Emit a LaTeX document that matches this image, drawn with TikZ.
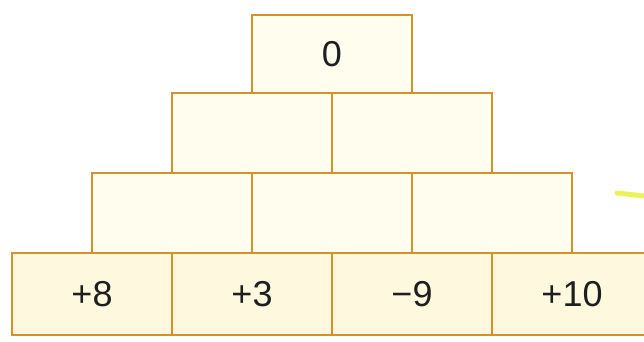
\documentclass[tikz,border=0pt]{standalone}
\usepackage{fontspec}
\setmainfont{Liberation Sans}
\usepackage{xcolor}
\usetikzlibrary{positioning}
\definecolor{brickEdge}{HTML}{D4922C}
\definecolor{brickFill}{HTML}{FFFDEE}
\definecolor{brickBase}{HTML}{FEF9DE}
\definecolor{brickText}{HTML}{1E1E1E}
\definecolor{strayMark}{HTML}{E6F030}

\begin{document}
\begin{tikzpicture}[
  x=1pt, y=-1pt,
  font=\fontsize{36}{42}\selectfont,
  node distance=0pt,
  cell/.style={
    draw=brickEdge,
    fill=brickFill,
    line width=2.6pt,
    text=brickText,
    minimum width=160pt,
    minimum height=80pt,
    inner sep=0pt,
    outer sep=0pt
  },
  base/.style={cell, fill=brickBase, minimum height=82pt}
]
\useasboundingbox (0,0) rectangle (644,341);

% bottom row
\node[base] (b1) at (92,294) {+8};
\node[base, right=of b1] (b2) {+3};
\node[base, right=of b2] (b3) {−9};
\node[base, right=of b3] (b4) {+10};

% third row
\node[cell, anchor=south] (c1) at (b1.north east) {};
\node[cell, right=of c1] (c2) {};
\node[cell, right=of c2] (c3) {};

% second row
\node[cell, anchor=south] (d1) at (c1.north east) {};
\node[cell, right=of d1] (d2) {};

% top
\node[cell, anchor=south, minimum height=78pt] (top) at (d1.north east) {0};

% stray mark at the right edge
\coordinate (m1) at (617,193);
\coordinate (m2) at (644,196);
\draw[strayMark, line width=5pt, line cap=round, opacity=0.8] (m1) -- (m2);

\end{tikzpicture}
\end{document}
